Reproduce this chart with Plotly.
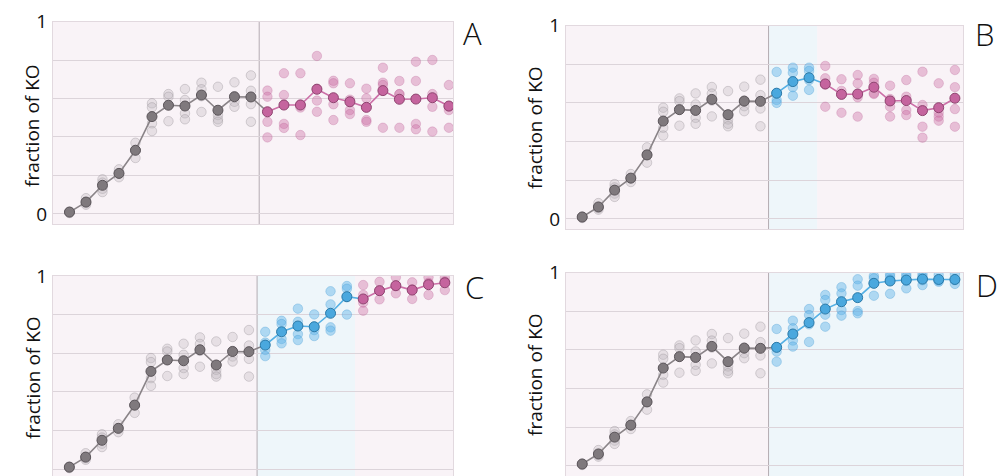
import plotly.graph_objects as go

# ---------------- data ----------------
x_idx = list(range(24))

base_mean = [0.01, 0.062, 0.149, 0.211, 0.331, 0.506, 0.565, 0.561, 0.618, 0.539, 0.609, 0.608]
base_reps = [
    [0.005, 0.010, 0.012, 0.008],
    [0.082, 0.062, 0.056, 0.048],
    [0.180, 0.163, 0.131, 0.114],
    [0.232, 0.211, 0.210, 0.191],
    [0.370, 0.333, 0.330, 0.291],
    [0.575, 0.554, 0.471, 0.431],
    [0.623, 0.609, 0.566, 0.482],
    [0.649, 0.592, 0.523, 0.492],
    [0.682, 0.648, 0.612, 0.530],
    [0.661, 0.514, 0.492, 0.479],
    [0.684, 0.612, 0.583, 0.557],
    [0.720, 0.640, 0.571, 0.479],
]

A_pink_mean = [0.531, 0.566, 0.566, 0.648, 0.604, 0.583, 0.554, 0.641, 0.596, 0.597, 0.604, 0.561]
A_pink_reps = [
    [0.641, 0.609, 0.479, 0.398],
    [0.731, 0.618, 0.468, 0.447],
    [0.731, 0.570, 0.553, 0.410],
    [0.821, 0.651, 0.589, 0.531],
    [0.692, 0.679, 0.570, 0.488],
    [0.679, 0.594, 0.540, 0.519],
    [0.651, 0.601, 0.488, 0.479],
    [0.760, 0.682, 0.670, 0.448],
    [0.691, 0.623, 0.622, 0.448],
    [0.791, 0.691, 0.468, 0.440],
    [0.800, 0.623, 0.557, 0.428],
    [0.670, 0.557, 0.540, 0.448],
]

B_blue_mean = [0.650, 0.710, 0.730]
B_blue_reps = [
    [0.760, 0.650, 0.615, 0.600],
    [0.782, 0.756, 0.681, 0.637],
    [0.782, 0.765, 0.718, 0.667],
]
B_pink_mean = [0.698, 0.644, 0.646, 0.681, 0.610, 0.612, 0.560, 0.575, 0.624]
B_pink_reps = [
    [0.791, 0.727, 0.694, 0.580],
    [0.722, 0.662, 0.643, 0.549],
    [0.744, 0.701, 0.629, 0.529],
    [0.724, 0.704, 0.650, 0.646],
    [0.689, 0.620, 0.580, 0.529],
    [0.718, 0.632, 0.563, 0.537],
    [0.761, 0.589, 0.477, 0.420],
    [0.701, 0.549, 0.529, 0.508],
    [0.770, 0.681, 0.568, 0.477],
]

C_blue_mean = [0.642, 0.711, 0.741, 0.737, 0.807, 0.893]
C_blue_reps = [
    [0.711, 0.655, 0.617, 0.585],
    [0.768, 0.751, 0.674, 0.651],
    [0.831, 0.763, 0.699, 0.668],
    [0.801, 0.738, 0.720, 0.689],
    [0.921, 0.853, 0.734, 0.717],
    [0.948, 0.934, 0.890, 0.800],
]
C_pink_mean = [0.881, 0.924, 0.950, 0.927, 0.955, 0.965]
C_pink_reps = [
    [0.953, 0.902, 0.862, 0.820],
    [0.970, 0.924, 0.923, 0.879],
    [0.993, 0.950, 0.947, 0.910],
    [0.967, 0.930, 0.930, 0.881],
    [0.993, 0.965, 0.960, 0.902],
    [0.991, 0.972, 0.968, 0.927],
]

D_blue_mean = [0.613, 0.682, 0.741, 0.811, 0.849, 0.870, 0.944, 0.956, 0.961, 0.966, 0.964, 0.964]
D_blue_reps = [
    [0.708, 0.614, 0.591, 0.539],
    [0.751, 0.712, 0.648, 0.617],
    [0.811, 0.780, 0.732, 0.641],
    [0.884, 0.858, 0.782, 0.720],
    [0.924, 0.892, 0.806, 0.777],
    [0.965, 0.932, 0.801, 0.789],
    [0.982, 0.970, 0.944, 0.880],
    [0.992, 0.978, 0.964, 0.890],
    [0.992, 0.978, 0.956, 0.918],
    [0.992, 0.978, 0.960, 0.935],
    [0.987, 0.960, 0.958, 0.952],
    [0.992, 0.963, 0.960, 0.941],
]

panel_labels = ["A", "B", "C", "D"]
y_title = "fraction of KO"
switch_x = 11.5
blue_spans = {"A": None, "B": (11.5, 14.5), "C": (11.5, 17.5), "D": (11.5, 23.6)}

# phases: (style, means, reps), each phase starts where the previous ended
panel_phases = {
    "A": [("gray", base_mean, base_reps), ("pink", A_pink_mean, A_pink_reps)],
    "B": [("gray", base_mean, base_reps), ("blue", B_blue_mean, B_blue_reps), ("pink", B_pink_mean, B_pink_reps)],
    "C": [("gray", base_mean, base_reps), ("blue", C_blue_mean, C_blue_reps), ("pink", C_pink_mean, C_pink_reps)],
    "D": [("gray", base_mean, base_reps), ("blue", D_blue_mean, D_blue_reps)],
}

# ---------------- styles / layout ----------------
STY = {
    "gray": dict(rep_fill="rgba(185,179,185,0.30)", rep_line="rgba(140,134,140,0.32)",
                 mean_fill="#7f797d", mean_line="#5b555a", path="#8a8488"),
    "pink": dict(rep_fill="rgba(205,110,165,0.40)", rep_line="rgba(180,85,140,0.25)",
                 mean_fill="#c5649e", mean_line="#8f4470", path="#cc70a8"),
    "blue": dict(rep_fill="rgba(95,180,232,0.45)", rep_line="rgba(60,150,210,0.30)",
                 mean_fill="#4aa8de", mean_line="#2c7aa8", path="#55b0e4"),
}

W, H = 1006, 476
# pixel boxes (left, right, top, bottom)
boxes = {"A": (53, 453, 21.5, 224), "B": (566, 963, 25.5, 229),
         "C": (53, 453, 276, 476), "D": (566, 963, 272.5, 476)}
xranges = {"A": [-1, 23.25], "B": [-1, 23.5], "C": [-1, 23.5], "D": [-1, 23.5]}
yranges = {"A": [-0.052, 1], "B": [-0.052, 1], "C": [-0.036, 1], "D": [-0.052, 1]}
title_pos = {"A": (32, 125), "B": (535, 128), "C": (33, 378), "D": (535, 375)}
letter_pos = {"A": (472, 33), "B": (984, 34), "C": (474, 287), "D": (987, 285)}

FONT = "Open Sans"
fig = go.Figure()
shapes, annotations = [], []

for k, key in enumerate(panel_labels):
    n = "" if k == 0 else str(k + 1)
    xa, ya = "x" + n, "y" + n
    L, R, T, B = boxes[key]
    fig.layout["xaxis" + n] = dict(
        domain=[L / W, R / W], range=xranges[key], showgrid=False, zeroline=False,
        showticklabels=False, ticks="", showline=True, mirror=True, linecolor="#e2d9df",
        linewidth=1, anchor=ya, fixedrange=True, automargin=False)
    fig.layout["yaxis" + n] = dict(
        domain=[max(0, 1 - B / H), 1 - T / H], range=yranges[key],
        tickvals=[0, 0.2, 0.4, 0.6, 0.8, 1.0], ticktext=["0", "", "", "", "", "1"],
        showgrid=True, gridcolor="#dcd4da", gridwidth=1, zeroline=False,
        showline=True, mirror=True, linecolor="#e2d9df", linewidth=1,
        ticks="outside", ticklen=1, tickcolor="rgba(0,0,0,0)",
        tickfont=dict(family=FONT, size=19, color="#111"), anchor=xa, fixedrange=True,
        automargin=False)

    span = blue_spans[key]
    if span:
        shapes.append(dict(type="rect", xref=xa, yref=ya + " domain", x0=span[0], x1=span[1],
                           y0=0, y1=1, fillcolor="#eef6fa", line_width=0, layer="below"))
    shapes.append(dict(type="line", xref=xa, yref=ya + " domain", x0=switch_x, x1=switch_x,
                       y0=0, y1=1, line=dict(color="#b4acb2", width=1), layer="below"))

    phases = panel_phases[key]
    # replicate points
    start = 0
    starts = []
    for style, means, reps in phases:
        starts.append(start)
        xs, ys = [], []
        for i, vals in enumerate(reps):
            for v in vals:
                xs.append(x_idx[start + i])
                ys.append(v)
        s = STY[style]
        fig.add_trace(go.Scatter(x=xs, y=ys, mode="markers", xaxis=xa, yaxis=ya,
                                 marker=dict(size=9.5, color=s["rep_fill"],
                                             line=dict(color=s["rep_line"], width=1)),
                                 hoverinfo="skip", showlegend=False))
        start += len(means)
    # connecting lines (each phase's line reaches the first point of the next phase)
    for p, (style, means, reps) in enumerate(phases):
        st = starts[p]
        ys = list(means)
        if p + 1 < len(phases):
            ys = ys + [phases[p + 1][1][0]]
        xs = x_idx[st:st + len(ys)]
        fig.add_trace(go.Scatter(x=xs, y=ys, mode="lines", xaxis=xa, yaxis=ya,
                                 line=dict(color=STY[style]["path"], width=1.6),
                                 hoverinfo="skip", showlegend=False))
    # mean markers
    for p, (style, means, reps) in enumerate(phases):
        st = starts[p]
        s = STY[style]
        fig.add_trace(go.Scatter(x=x_idx[st:st + len(means)], y=means, mode="markers",
                                 xaxis=xa, yaxis=ya,
                                 marker=dict(size=10, color=s["mean_fill"],
                                             line=dict(color=s["mean_line"], width=1)),
                                 showlegend=False))

    tx, ty = title_pos[key]
    annotations.append(dict(text=y_title, x=tx / W, y=1 - ty / H, xref="paper", yref="paper",
                            showarrow=False, textangle=-90, xanchor="center", yanchor="middle",
                            font=dict(family=FONT, size=19, color="#111")))
    lx, ly = letter_pos[key]
    annotations.append(dict(text=key, x=lx / W, y=1 - ly / H, xref="paper", yref="paper",
                            showarrow=False, xanchor="center", yanchor="middle",
                            font=dict(family=FONT, size=31, color="#111", weight=300)))

fig.update_layout(width=W, height=H, margin=dict(l=0, r=0, t=0, b=0, autoexpand=False),
                  paper_bgcolor="white", plot_bgcolor="#f9f3f7",
                  shapes=shapes, annotations=annotations, showlegend=False)

fig.write_html("out.html")
